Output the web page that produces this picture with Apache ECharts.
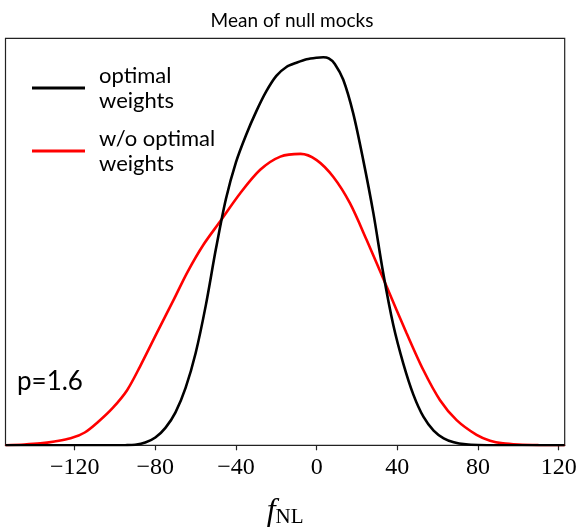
<!DOCTYPE html>
<html>
<head>
<meta charset="utf-8">
<script src="https://cdn.jsdelivr.net/npm/echarts@6/dist/echarts.min.js"></script>
<style>html,body{margin:0;padding:0;background:#fff}#c{width:579px;height:527px}</style>
</head>
<body>
<div id="c"></div>
<script>
// f_NL grid (x) and curve heights (normalized to the black peak)
const optX = [-154.3, -130, -110, -100, -95, -90, -85, -80, -75, -70, -65, -60, -55, -50, -45, -40, -35, -30, -25, -20, -15, -10, -5, 0, 3.3, 6, 9, 13.2, 18.1, 23.1, 28.1, 33.0, 38, 43, 48, 53, 58, 63, 68, 74, 80, 90, 105, 123];
const optY = [0, 0, 0, 0, 0.0003, 0.0015, 0.007, 0.02, 0.045, 0.085, 0.148, 0.238, 0.36, 0.505, 0.635, 0.73, 0.8, 0.86, 0.912, 0.952, 0.975, 0.986, 0.995, 0.999, 1.0, 0.997, 0.983, 0.942, 0.856, 0.735, 0.599, 0.444, 0.31, 0.21, 0.13, 0.073, 0.038, 0.018, 0.008, 0.0025, 0.0006, 0, 0, 0];
const woX = [-154.3, -145, -137, -130, -122, -115, -108, -101, -94, -87.6, -79.3, -71, -64, -56, -48, -38, -28, -18, -8, 0, 8.2, 16.5, 24.8, 34.7, 44.6, 52.9, 61.1, 69.4, 79.3, 86, 92.4, 100, 110, 123];
const woY = [0, 0.002, 0.005, 0.010, 0.018, 0.033, 0.062, 0.097, 0.142, 0.203, 0.289, 0.374, 0.447, 0.518, 0.576, 0.649, 0.710, 0.744, 0.751, 0.735, 0.692, 0.624, 0.529, 0.409, 0.289, 0.194, 0.117, 0.065, 0.027, 0.012, 0.005, 0.002, 0.0005, 0];
const seriesNames = ['optimal\nweights', 'w/o optimal\nweights'];
const tickValues = [-120, -80, -40, 0, 40, 80, 120];
const titleText = 'Mean of null mocks';
const annotation = 'p=1.6';

const chart = echarts.init(document.getElementById('c'), null, {renderer: 'canvas'});
const sans = 'Lato, "Open Sans", sans-serif';
const serif = '"Liberation Serif", "DejaVu Serif", serif';
chart.setOption({
  animation: false,
  backgroundColor: '#fff',
  title: {
    text: titleText, left: 287, textAlign: 'center', top: 6,
    textStyle: {fontFamily: sans, fontSize: 19, fontWeight: 'normal', color: '#000'}
  },
  legend: {
    orient: 'vertical', left: 27, top: 58, itemGap: 13,
    itemWidth: 53, itemHeight: 3, icon: 'rect',
    textStyle: {fontFamily: sans, fontSize: 22, color: '#000', lineHeight: 25, padding: [0, 0, 0, 9]},
    data: seriesNames
  },
  grid: {left: 5.5, right: 14.3, top: 38.3, bottom: 81.7, show: true, borderColor: '#222', borderWidth: 1.2,
    containLabel: false, outerBoundsMode: 'none'},
  xAxis: {
    type: 'value', min: -154.3, max: 123,
    axisLine: {show: true, onZero: false, lineStyle: {color: '#222', width: 1.2}},
    axisTick: {show: true, length: 5, lineStyle: {color: '#222', width: 1.2}, customValues: tickValues},
    axisLabel: {customValues: tickValues, margin: 10, fontFamily: serif, fontSize: 24, color: '#000',
      formatter: v => v < 0 ? '\u2212' + (-v) : String(v)},
    splitLine: {show: false},
    name: '{f|f}{s|NL}', nameLocation: 'middle', nameGap: 50,
    nameTextStyle: {rich: {
      f: {fontFamily: serif, fontStyle: 'italic', fontSize: 32, color: '#000'},
      s: {fontFamily: serif, fontSize: 21, color: '#000', padding: [12, 0, 0, 0]}
    }}
  },
  yAxis: {
    type: 'value', min: 0, max: 1.049,
    axisLine: {show: false}, axisTick: {show: false}, axisLabel: {show: false}, splitLine: {show: false}
  },
  graphic: [{
    type: 'text', left: 17, top: 369,
    style: {text: annotation, font: '26px ' + sans, fill: '#000'}
  }],
  series: [
    {name: seriesNames[0], type: 'line', showSymbol: false, smooth: 0.3,
      data: optX.map((x, i) => [x, optY[i]]), lineStyle: {color: '#000', width: 2.6}, itemStyle: {color: '#000'}, z: 3},
    {name: seriesNames[1], type: 'line', showSymbol: false, smooth: 0.3,
      data: woX.map((x, i) => [x, woY[i]]), lineStyle: {color: '#ff0000', width: 2.6}, itemStyle: {color: '#ff0000'}, z: 2}
  ]
});
</script>
</body>
</html>
